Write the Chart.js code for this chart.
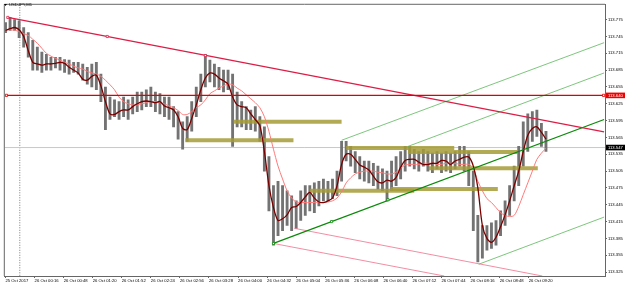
<!DOCTYPE html>
<html><head><meta charset="utf-8">
<script src="https://cdn.jsdelivr.net/npm/chart.js@4.4.0/dist/chart.umd.min.js"></script>
<style>html,body{margin:0;padding:0;background:#fff;overflow:hidden}</style>
</head><body>
<canvas id="c" width="625" height="286"></canvas>
<script>
const symbolLabel = 'USDJPY,M1';
const timeLabels = ['25 Oct 2017','26 Oct 00:16','26 Oct 00:48','26 Oct 01:20','26 Oct 01:52','26 Oct 02:24','26 Oct 02:56','26 Oct 03:28','26 Oct 04:00','26 Oct 04:32','26 Oct 05:04','26 Oct 05:36','26 Oct 06:08','26 Oct 06:40','26 Oct 07:12','26 Oct 07:44','26 Oct 08:16','26 Oct 08:48','26 Oct 09:20'];
const timeTickMinutes = [0,32,64,96,128,160,192,224,256,288,320,352,384,416,448,480,512,544,576];
const priceTicks = [113.325,113.355,113.385,113.415,113.445,113.475,113.505,113.535,113.565,113.595,113.625,113.655,113.685,113.715,113.745,113.775];
const linePrice = 113.640;
const bidPrice = 113.547;
const barStepMinutes = 5;

const barLow = [113.752,113.756,113.756,113.743,113.726,113.708,113.685,113.685,113.681,113.685,
113.685,113.689,113.685,113.681,113.678,113.681,113.678,113.667,113.660,113.655,
113.650,113.629,113.579,113.597,113.602,113.597,113.602,113.597,113.607,113.611,
113.614,113.620,113.620,113.611,113.607,113.602,113.597,113.584,113.562,113.544,
113.558,113.576,113.602,113.629,113.655,113.664,113.655,113.650,113.646,113.650,
113.549,113.584,113.584,113.579,113.579,113.576,113.558,113.505,113.434,113.373,
113.390,113.399,113.408,113.399,113.403,113.417,113.426,113.434,113.431,113.443,
113.452,113.452,113.456,113.461,113.487,113.523,113.514,113.502,113.491,113.487,
113.484,113.479,113.473,113.470,113.452,113.470,113.479,113.491,113.505,113.514,
113.509,113.505,113.514,113.505,113.502,113.509,113.502,113.505,113.502,113.509,
113.514,113.505,113.479,113.399,113.343,113.350,113.364,113.367,113.373,113.390,
113.408,113.426,113.452,113.479,113.514,113.540,113.558,113.567,113.549,113.540];
const barHigh = [113.770,113.779,113.775,113.773,113.761,113.752,113.738,113.726,113.717,113.713,
113.708,113.708,113.708,113.704,113.703,113.699,113.699,113.696,113.690,113.696,
113.699,113.678,113.655,113.637,113.632,113.629,113.637,113.632,113.637,113.646,
113.646,113.650,113.655,113.646,113.643,113.637,113.637,113.620,113.611,113.593,
113.602,113.629,113.655,113.678,113.713,113.703,113.696,113.690,113.685,113.685,
113.678,113.646,113.629,113.620,113.614,113.620,113.602,113.584,113.531,113.479,
113.487,113.479,113.470,113.461,113.452,113.470,113.479,113.479,113.484,113.487,
113.491,113.487,113.491,113.505,113.558,113.558,113.549,113.540,113.531,113.523,
113.523,113.519,113.514,113.509,113.505,113.523,113.531,113.540,113.549,113.549,
113.544,113.540,113.544,113.540,113.537,113.540,113.537,113.540,113.537,113.540,
113.549,113.549,113.540,113.505,113.426,113.408,113.408,113.413,113.417,113.434,
113.452,113.479,113.514,113.549,113.593,113.607,113.611,113.614,113.590,113.576];
const fastMA = [113.756,113.759,113.761,113.757,113.745,113.720,113.699,113.696,113.694,113.696,
113.696,113.697,113.699,113.697,113.690,113.685,113.680,113.669,113.667,113.674,
113.676,113.657,113.629,113.607,113.606,113.611,113.614,113.614,113.620,113.625,
113.629,113.630,113.629,113.627,113.629,113.621,113.618,113.614,113.602,113.581,
113.579,113.599,113.623,113.650,113.671,113.680,113.678,113.671,113.666,113.660,
113.637,113.623,113.620,113.618,113.607,113.597,113.586,113.540,113.479,113.440,
113.417,113.420,113.427,113.440,113.442,113.449,113.459,113.467,113.457,113.450,
113.449,113.452,113.457,113.479,113.517,113.535,113.535,113.526,113.516,113.512,
113.507,113.496,113.486,113.484,113.489,113.487,113.494,113.512,113.524,113.526,
113.526,113.521,113.517,113.517,113.519,113.519,113.524,113.523,113.517,113.523,
113.526,113.530,113.530,113.514,113.475,113.408,113.385,113.378,113.387,113.406,
113.427,113.452,113.479,113.505,113.540,113.569,113.581,113.584,113.574,113.562];
const slowMA = [113.757,113.757,113.756,113.754,113.750,113.747,113.740,113.733,113.724,113.715,
113.710,113.706,113.703,113.699,113.696,113.692,113.689,113.687,113.683,113.680,
113.678,113.674,113.667,113.659,113.650,113.637,113.629,113.625,113.623,113.623,
113.625,113.627,113.629,113.629,113.627,113.625,113.621,113.618,113.613,113.606,
113.606,113.611,113.618,113.623,113.632,113.643,113.648,113.653,113.657,113.660,
113.659,113.653,113.648,113.641,113.634,113.627,113.618,113.602,113.576,113.544,
113.514,113.491,113.470,113.457,113.450,113.449,113.449,113.449,113.449,113.449,
113.449,113.450,113.452,113.457,113.468,113.484,113.493,113.500,113.503,113.505,
113.505,113.505,113.503,113.502,113.500,113.500,113.503,113.510,113.516,113.517,
113.517,113.517,113.519,113.519,113.519,113.517,113.517,113.519,113.519,113.519,
113.517,113.517,113.517,113.510,113.487,113.470,113.456,113.449,113.440,113.431,
113.426,113.424,113.426,113.442,113.463,113.484,113.505,113.526,113.537,113.546];

// zones: price, start minute, end minute
const zonePrice = [113.593,113.560,113.546,113.539,113.510,113.470,113.473];
const zoneStart = [251,198,375,443,466,335,424];
const zoneEnd   = [370,317,494,564,586,450,542];

// trend lines [startMinute, startPrice, endMinute, endPrice]
const redTrend   = [2.5,113.779,659,113.575];
const redAnchors = [[2.5,113.779],[112,113.745],[220,113.711]];
const greenTrend = [295,113.376,659,113.597];
const greenAnchors = [[295,113.376],[359,113.415],[421,113.454]];
const greenThin = [[370,113.560,659,113.734],[443,113.549,659,113.680],[521,113.339,659,113.423]];
const pinkLines = [[295,113.376,483,113.318],[318,113.403,591,113.318]];
const vLineMinute = 15.7;

const X_MIN = -0.8, X_MAX = 660, Y_MIN = 113.318, Y_MAX = 113.8015;
const FONT = 'Liberation Sans, Arial, sans-serif';

const seg = (a, extra) => Object.assign({type:'line', data:[{x:a[0],y:a[1]},{x:a[2],y:a[3]}], pointRadius:0, fill:false, tension:0}, extra);

const datasets = [];
// candles
datasets.push({type:'bar', data: barLow.map((lo,i)=>({x:i*barStepMinutes, y:[lo, barHigh[i]]})), backgroundColor:'#737373', borderWidth:0, barThickness:2.2, order:6});
// zones
zonePrice.forEach((p,i)=>datasets.push(seg([zoneStart[i],p,zoneEnd[i],p], {borderColor:'rgba(165,155,55,0.85)', borderWidth:4, borderCapStyle:'butt', order:5})));
// horizontal lines
datasets.push(seg([X_MIN,bidPrice,X_MAX,bidPrice], {borderColor:'#c8c8c8', borderWidth:1, order:7}));
datasets.push(seg([X_MIN,linePrice,X_MAX,linePrice], {borderColor:'#e00000', borderWidth:1.2, order:2}));
datasets.push({type:'line', data:[{x:1,y:linePrice},{x:658.5,y:linePrice}], showLine:false, pointStyle:'rect', pointRadius:1.6, borderColor:'#e00000', backgroundColor:'#fff', borderWidth:0.8, order:1});
// vertical dotted
datasets.push(seg([vLineMinute,Y_MAX,vLineMinute,Y_MIN], {borderColor:'#555', borderWidth:0.8, borderDash:[1,1.5], order:7}));
// MAs
datasets.push({type:'line', data: slowMA.map((v,i)=>({x:i*barStepMinutes,y:v})), borderColor:'#ff7a7a', borderWidth:1, pointRadius:0, tension:0.3, order:4});
datasets.push({type:'line', data: fastMA.map((v,i)=>({x:i*barStepMinutes,y:v})), borderColor:'#7a0000', borderWidth:1.3, pointRadius:0, tension:0.3, order:3});
// trend lines
datasets.push(seg(redTrend, {borderColor:'#dc1e46', borderWidth:1.3, order:2}));
datasets.push({type:'line', data:redAnchors.map(a=>({x:a[0],y:a[1]})), showLine:false, pointStyle:'rect', pointRadius:1.5, borderColor:'#dc1e46', backgroundColor:'#fff', borderWidth:0.8, order:1});
datasets.push(seg(greenTrend, {borderColor:'#0a8a0a', borderWidth:1.3, order:2}));
datasets.push({type:'line', data:greenAnchors.map(a=>({x:a[0],y:a[1]})), showLine:false, pointStyle:'rect', pointRadius:1.5, borderColor:'#0a8a0a', backgroundColor:'#fff', borderWidth:0.8, order:1});
greenThin.forEach(a=>datasets.push(seg(a, {borderColor:'#5cb85c', borderWidth:0.8, order:2})));
pinkLines.forEach(a=>datasets.push(seg(a, {borderColor:'#f0708a', borderWidth:0.8, order:2})));

const decor = {
  id:'decor',
  afterDraw(chart){
    const ctx = chart.ctx, ca = chart.chartArea, ys = chart.scales.y;
    ctx.save();
    ctx.strokeStyle = '#666'; ctx.lineWidth = 1;
    ctx.beginPath();
    ctx.moveTo(ca.left-0.5, ca.bottom); ctx.lineTo(ca.left-0.5, ca.top-0.5); ctx.lineTo(ca.right, ca.top-0.5);
    ctx.stroke();
    // header
    ctx.fillStyle = '#000';
    ctx.beginPath(); ctx.moveTo(4,4); ctx.lineTo(7,4); ctx.lineTo(5.5,6); ctx.closePath(); ctx.fill();
    ctx.font = '4.2px ' + FONT; ctx.textBaseline = 'middle'; ctx.textAlign = 'left';
    ctx.fillText(symbolLabel, 9, 5.2);
    // price boxes
    const box = (p, bg) => {
      const y = ys.getPixelForValue(p);
      ctx.fillStyle = bg; ctx.fillRect(ca.right+1, y-2.8, 19, 5.6);
      ctx.fillStyle = '#fff'; ctx.font = '4.2px ' + FONT;
      ctx.fillText(p.toFixed(3), ca.right+3, y+0.2);
    };
    box(linePrice, '#f00000');
    box(bidPrice, '#000');
    ctx.restore();
  }
};

new Chart(document.getElementById('c'), {
  type:'bar',
  data:{datasets},
  options:{
    responsive:false, animation:false, events:[],
    layout:{padding:{left:2, top:2, right:0, bottom:0}},
    plugins:{legend:{display:false}, tooltip:{enabled:false}},
    scales:{
      x:{type:'linear', position:'bottom', min:X_MIN, max:X_MAX, offset:false,
        grid:{drawOnChartArea:false, drawTicks:true, tickLength:2, color:'#666', offset:false},
        border:{display:true, color:'#666'},
        ticks:{align:'start', padding:0, autoSkip:false, maxRotation:0, minRotation:0, color:'#000', font:{size:4.2, family:FONT}, callback:(v,i)=>timeLabels[i]},
        afterBuildTicks:s=>{s.ticks = timeTickMinutes.map(v=>({value:v}));},
        afterFit:s=>{s.height = 10;}
      },
      y:{type:'linear', position:'right', min:Y_MIN, max:Y_MAX,
        grid:{drawOnChartArea:false, drawTicks:true, tickLength:2, color:'#666'},
        border:{display:true, color:'#666'},
        ticks:{padding:1, color:'#000', font:{size:4.2, family:FONT}, callback:v=>Number(v).toFixed(3)},
        afterBuildTicks:s=>{s.ticks = priceTicks.map(v=>({value:v}));},
        afterFit:s=>{s.width = 20;}
      }
    }
  },
  plugins:[decor]
});
</script>
</body></html>
